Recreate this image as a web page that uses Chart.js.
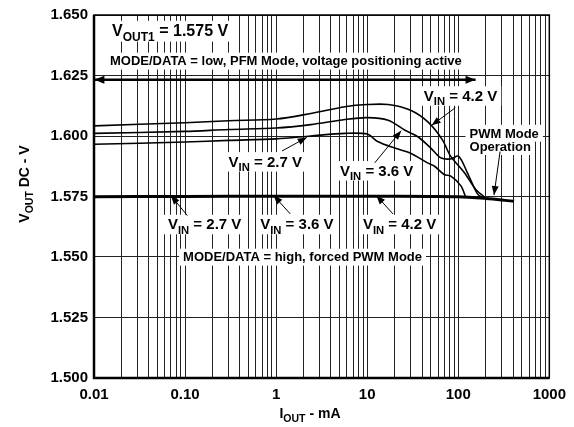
<!DOCTYPE html>
<html>
<head>
<meta charset="utf-8">
<script src="https://cdn.jsdelivr.net/npm/chart.js@4.4.0/dist/chart.umd.min.js"></script>
<style>
  html, body { margin: 0; padding: 0; background: #fff; }
  #wrap { width: 574px; height: 427px; }
</style>
</head>
<body>
<div id="wrap"><canvas id="grafico"></canvas></div>
<script>
// Dados (I_OUT em mA, V_OUT em V)
const iout42 = [0.01, 0.1, 0.3, 1, 2.4, 5.7, 10, 17, 30, 47, 67, 82, 117, 155, 194];
const vout42 = [1.6042, 1.6055, 1.6063, 1.6070, 1.6093, 1.6121, 1.6130, 1.6130, 1.6106, 1.6056, 1.5984, 1.5918, 1.5848, 1.5780, 1.5748];

const iout36 = [0.01, 0.1, 0.3, 1, 2.4, 5.7, 10, 17, 26, 36, 50, 64, 82, 101, 126, 162, 189];
const vout36 = [1.6011, 1.6019, 1.6027, 1.6033, 1.6047, 1.6068, 1.6076, 1.6065, 1.6024, 1.5997, 1.5950, 1.5910, 1.5905, 1.5916, 1.5848, 1.5762, 1.5742];

const iout27 = [0.01, 0.1, 0.3, 1, 2.4, 5.7, 10, 13, 20, 30, 46, 55, 70, 83, 107, 121];
const vout27 = [1.5966, 1.5975, 1.5982, 1.5988, 1.6000, 1.6011, 1.6008, 1.5977, 1.5950, 1.5929, 1.5889, 1.5875, 1.5841, 1.5834, 1.5794, 1.5746];

// Modo PWM forçado (as três curvas ficam sobrepostas)
const ioutPwm = [0.01, 0.1, 1, 10, 50, 100, 200, 300, 410];
const voutPwm = [1.5749, 1.5750, 1.5751, 1.5751, 1.5750, 1.5749, 1.5742, 1.5736, 1.5730];

// Eixos
const xMaiores = [0.01, 0.1, 1, 10, 100, 1000];
const xRotulos = ['0.01', '0.10', '1', '10', '100', '1000'];
const yMin = 1.5, yMax = 1.65, yPasso = 0.025;

const fonte = "'Liberation Sans', Arial, Helvetica, sans-serif";

// Grade do eixo log: 1..9 em cada década
const xGrade = [];
xMaiores.slice(0, -1).forEach((d) => {
  for (let m = 1; m <= 9; m++) xGrade.push(m * d);
});
xGrade.push(1000);

const pontos = (xs, ys) => xs.map((x, i) => ({ x, y: ys[i] }));

// Anotações (posições em unidades dos dados)
const textos = [
  { partes: [['V', 0], ['OUT1', 1], [' = 1.575 V', 0]], x: 0.0158, y: 1.6435, tam: 16, alinhar: 'left' },
  { partes: [['MODE/DATA = low, PFM Mode, voltage positioning active', 0]], x: 1.28, y: 1.6311, tam: 13, alinhar: 'center' },
  { partes: [['V', 0], ['IN', 1], [' = 4.2 V', 0]], x: 106, y: 1.6167, tam: 15, alinhar: 'center' },
  { partes: [['PWM Mode', 0]], x: 133, y: 1.6013, tam: 13, alinhar: 'left' },
  { partes: [['Operation', 0]], x: 133, y: 1.5958, tam: 13, alinhar: 'left' },
  { partes: [['V', 0], ['IN', 1], [' = 2.7 V', 0]], x: 0.759, y: 1.5895, tam: 15, alinhar: 'center' },
  { partes: [['V', 0], ['IN', 1], [' = 3.6 V', 0]], x: 12.7, y: 1.5858, tam: 15, alinhar: 'center' },
  { partes: [['V', 0], ['IN', 1], [' = 2.7 V', 0]], x: 0.164, y: 1.5636, tam: 15, alinhar: 'center' },
  { partes: [['V', 0], ['IN', 1], [' = 3.6 V', 0]], x: 1.69, y: 1.5636, tam: 15, alinhar: 'center' },
  { partes: [['V', 0], ['IN', 1], [' = 4.2 V', 0]], x: 22.7, y: 1.5636, tam: 15, alinhar: 'center' },
  { partes: [['MODE/DATA = high, forced PWM Mode', 0]], x: 1.95, y: 1.5501, tam: 13, alinhar: 'center' }
];

const setas = [
  { de: [0.0101, 1.6232], para: [155, 1.6232], duplo: true, largura: 2.5 },
  { de: [93, 1.6117], para: [51, 1.6044] },
  { de: [288, 1.5936], para: [247, 1.5756] },
  { de: [1.16, 1.5938], para: [2.17, 1.5994] },
  { de: [12.1, 1.5889], para: [23.6, 1.6022] },
  { de: [0.106, 1.5671], para: [0.070, 1.5754] },
  { de: [1.43, 1.5678], para: [0.94, 1.5754] },
  { de: [19.2, 1.5678], para: [12.6, 1.5754] }
];

const medir = (ctx, partes, tam) => partes.reduce((w, [t, sub]) => {
  ctx.font = `bold ${sub ? tam * 0.75 : tam}px ${fonte}`;
  return w + ctx.measureText(t).width;
}, 0);

const escrever = (ctx, partes, x, y, tam) => {
  let cx = x;
  partes.forEach(([t, sub]) => {
    ctx.font = `bold ${sub ? tam * 0.75 : tam}px ${fonte}`;
    ctx.fillText(t, cx, sub ? y + tam * 0.3 : y);
    cx += ctx.measureText(t).width;
  });
};

const ponta = (ctx, x1, y1, x2, y2, comp, larg) => {
  const a = Math.atan2(y2 - y1, x2 - x1);
  ctx.beginPath();
  ctx.moveTo(x2, y2);
  ctx.lineTo(x2 - comp * Math.cos(a) + larg * Math.sin(a), y2 - comp * Math.sin(a) - larg * Math.cos(a));
  ctx.lineTo(x2 - comp * Math.cos(a) - larg * Math.sin(a), y2 - comp * Math.sin(a) + larg * Math.cos(a));
  ctx.closePath();
  ctx.fill();
};

const caixaTexto = (ctx, t, sx, sy) => {
  const w = medir(ctx, t.partes, t.tam);
  const cx = sx.getPixelForValue(t.x);
  const cy = sy.getPixelForValue(t.y);
  const esq = t.alinhar === 'center' ? cx - w / 2 : cx;
  return { esq, cy, w };
};

const anotacoes = {
  id: 'anotacoes',
  beforeDatasetsDraw(chart) {
    const { ctx, scales: { x, y } } = chart;
    ctx.save();
    ctx.fillStyle = '#fff';
    textos.forEach((t) => {
      const { esq, cy, w } = caixaTexto(ctx, t, x, y);
      ctx.fillRect(esq - 4, cy - t.tam * 0.62, w + 8, t.tam * 1.3);
    });
    ctx.restore();
  },
  afterDatasetsDraw(chart) {
    const { ctx, chartArea: a, scales: { x, y } } = chart;
    ctx.save();
    ctx.fillStyle = '#000';
    ctx.strokeStyle = '#000';
    ctx.textBaseline = 'alphabetic';
    ctx.textAlign = 'left';
    textos.forEach((t) => {
      const { esq, cy } = caixaTexto(ctx, t, x, y);
      escrever(ctx, t.partes, esq, cy + t.tam * 0.36, t.tam);
    });

    setas.forEach((s) => {
      const x1 = x.getPixelForValue(s.de[0]), y1 = y.getPixelForValue(s.de[1]);
      const x2 = x.getPixelForValue(s.para[0]), y2 = y.getPixelForValue(s.para[1]);
      ctx.lineWidth = s.largura || 1;
      ctx.beginPath();
      ctx.moveTo(x1, y1);
      ctx.lineTo(x2, y2);
      ctx.stroke();
      const comp = s.duplo ? 10 : 9, larg = s.duplo ? 4 : 3.5;
      ponta(ctx, x1, y1, x2, y2, comp, larg);
      if (s.duplo) ponta(ctx, x2, y2, x1, y1, comp, larg);
    });

    // Moldura: esquerda e base mais grossas
    ctx.lineWidth = 1.5;
    ctx.strokeRect(a.left, a.top, a.right - a.left, a.bottom - a.top);
    ctx.lineWidth = 2.5;
    ctx.beginPath();
    ctx.moveTo(a.left, a.top);
    ctx.lineTo(a.left, a.bottom);
    ctx.lineTo(a.right, a.bottom);
    ctx.stroke();

    // Títulos dos eixos
    const tx = [['I', 0], ['OUT', 1], [' - mA', 0]];
    const wx = medir(ctx, tx, 14);
    escrever(ctx, tx, 310 - wx / 2, 418, 14);

    const ty = [['V', 0], ['OUT', 1], [' DC - V', 0]];
    const wy = medir(ctx, ty, 14);
    ctx.translate(24, 184);
    ctx.rotate(-Math.PI / 2);
    escrever(ctx, ty, -wy / 2, 5, 14);
    ctx.restore();
  }
};

const linha = (xs, ys, largura) => ({
  data: pontos(xs, ys),
  borderColor: '#000',
  borderWidth: largura,
  pointRadius: 0,
  tension: 0.3,
  fill: false
});

const ctx = document.getElementById('grafico').getContext('2d');
new Chart(ctx, {
  type: 'line',
  data: {
    datasets: [
      linha(ioutPwm, voutPwm, 3),
      linha(iout42, vout42, 1.6),
      linha(iout36, vout36, 1.6),
      linha(iout27, vout27, 1.6)
    ]
  },
  options: {
    responsive: true,
    maintainAspectRatio: false,
    animation: false,
    layout: { padding: { left: 0, right: 22, top: 10, bottom: 0 } },
    plugins: { legend: { display: false }, tooltip: { enabled: false } },
    scales: {
      x: {
        type: 'logarithmic',
        min: 0.01,
        max: 1000,
        afterBuildTicks: (s) => { s.ticks = xGrade.map((v) => ({ value: v })); },
        afterFit: (s) => { s.height = 49; },
        ticks: {
          autoSkip: false,
          maxRotation: 0,
          padding: 8,
          color: '#000',
          font: { family: fonte, size: 15, weight: 'bold' },
          callback: (v) => {
            const i = xMaiores.findIndex((m) => Math.abs(v / m - 1) < 1e-6);
            return i >= 0 ? xRotulos[i] : '';
          }
        },
        grid: { color: '#222', lineWidth: 1, drawTicks: false },
        border: { display: false }
      },
      y: {
        min: yMin,
        max: yMax,
        afterFit: (s) => { s.width = 94; },
        ticks: {
          stepSize: yPasso,
          padding: 6,
          color: '#000',
          font: { family: fonte, size: 15, weight: 'bold' },
          callback: (v) => v.toFixed(3)
        },
        grid: { color: '#222', lineWidth: 1, drawTicks: false },
        border: { display: false }
      }
    }
  },
  plugins: [anotacoes]
});
</script>
</body>
</html>
